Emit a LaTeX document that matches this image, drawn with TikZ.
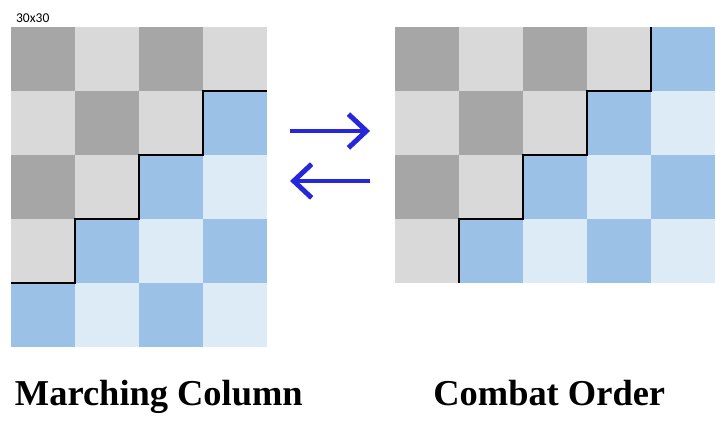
\documentclass[tikz,border=0pt]{standalone}
\usepackage{fontspec}
\usetikzlibrary{arrows.meta}
\newfontfamily\sizefont{Carlito}
\newfontfamily\titlefont{Liberation Serif}
\definecolor{darkcell}{HTML}{A6A6A6}
\definecolor{lightcell}{HTML}{D9D9D9}
\definecolor{bluecell}{HTML}{9BC2E6}
\definecolor{palecell}{HTML}{DDEBF7}
\definecolor{swapblue}{RGB}{38,38,218}

\begin{document}
\begin{tikzpicture}[thick]
\useasboundingbox (-0.171875,-1.4375) rectangle (11.140625,5.421875);
\tikzset{
  step line/.style={black,line width=0.9pt,line join=miter},
  swap arrow/.style={swapblue,line width=2.2pt,-{Straight Barb[length=8pt,width=15pt,line width=2.2pt]}},
  title/.style={font=\titlefont\bfseries\fontsize{16.2}{19}\selectfont,anchor=base}
}

% marching column: 4 wide, 5 deep
\foreach \c in {0,...,3}
 \foreach \r in {0,...,4}{
   \pgfmathtruncatemacro\s{\c+\r}
   \pgfmathtruncatemacro\odd{mod(\s,2)}
   \ifnum\s<4 \ifnum\odd=0 \def\cellcol{darkcell}\else\def\cellcol{lightcell}\fi
   \else \ifnum\odd=0 \def\cellcol{bluecell}\else\def\cellcol{palecell}\fi\fi
   \fill[\cellcol] (\c,4-\r) rectangle ++(1,1);
 }

% combat order: 5 wide, 4 deep
\foreach \c in {0,...,4}
 \foreach \r in {0,...,3}{
   \pgfmathtruncatemacro\s{\c+\r}
   \pgfmathtruncatemacro\odd{mod(\s,2)}
   \ifnum\s<4 \ifnum\odd=0 \def\cellcol{darkcell}\else\def\cellcol{lightcell}\fi
   \else \ifnum\odd=0 \def\cellcol{bluecell}\else\def\cellcol{palecell}\fi\fi
   \fill[\cellcol] (6+\c,4-\r) rectangle ++(1,1);
 }

\draw[step line] (0,1)--(1,1)--(1,2)--(2,2)--(2,3)--(3,3)--(3,4)--(4,4);
\draw[step line] (7,1)--(7,2)--(8,2)--(8,3)--(9,3)--(9,4)--(10,4)--(10,5);

\coordinate (L1) at (4.36,3.375);
\coordinate (R1) at (5.61,3.375);
\coordinate (L2) at (4.36,2.594);
\coordinate (R2) at (5.61,2.594);
\draw[swap arrow] (L1)--(R1);
\draw[swap arrow] (R2)--(L2);

\node (size) at (0.34,5.14) {\sizefont\fontsize{6}{7}\selectfont 30x30};
\node[title] (march) at (2.31,-0.92) {Marching Column};
\node[title] (combat) at (8.41,-0.92) {Combat Order};

\end{tikzpicture}
\end{document}
